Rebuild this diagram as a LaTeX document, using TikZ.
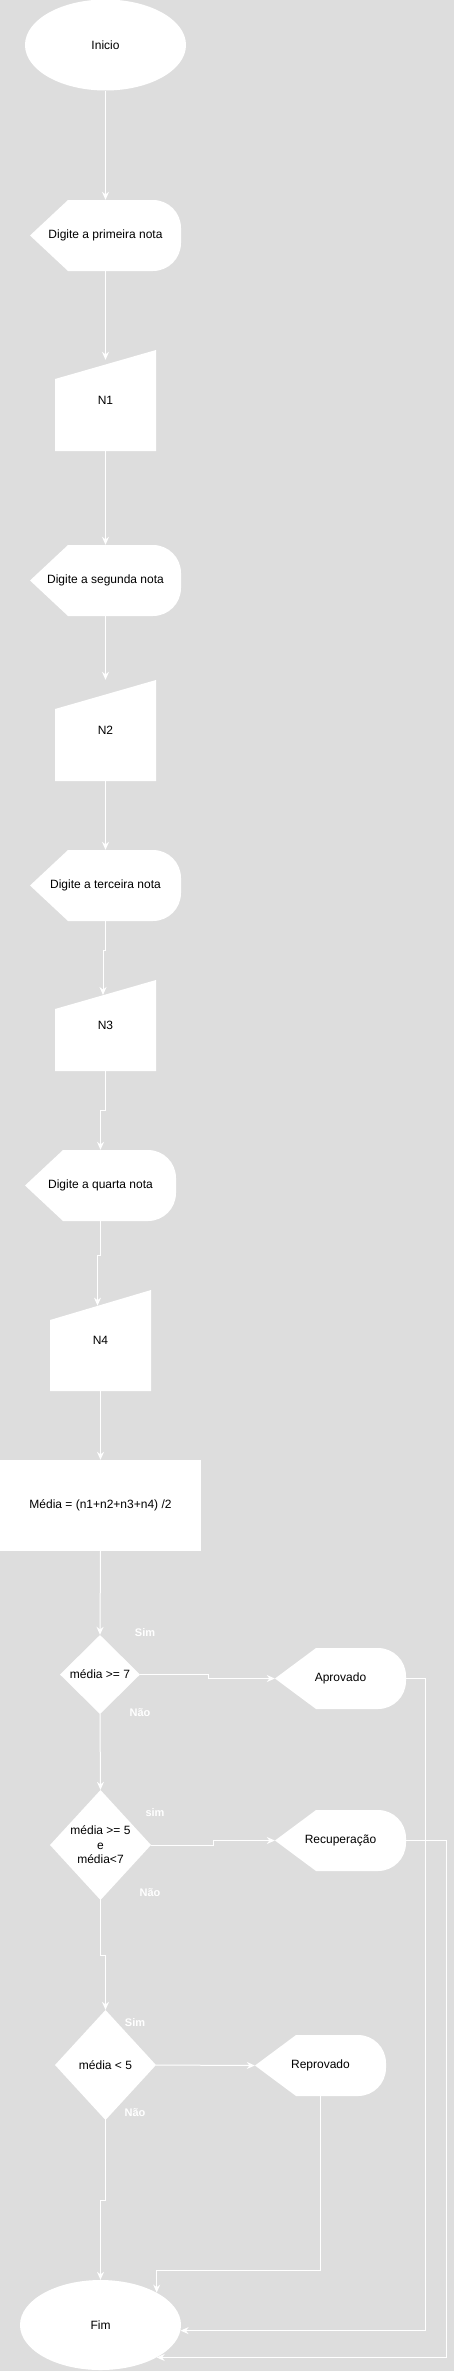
\documentclass[tikz,border=0pt]{standalone}
\usepackage{fontspec}
\setmainfont{Liberation Sans}
\usetikzlibrary{arrows.meta,shapes.geometric,calc}
\definecolor{fundo}{RGB}{221,221,221}

\begin{document}
\begin{tikzpicture}[x=1pt,y=-1pt,>={Stealth[length=8pt,width=7pt]},
	font=\fontsize{12}{14.5}\selectfont,
	flow/.style={->,white,line width=1pt},
	rotulo/.style={white,font=\fontsize{11}{13}\selectfont\bfseries},
	terminal/.style={ellipse,fill=white,inner sep=0pt,minimum width=161pt,minimum height=91pt},
	processo/.style={rectangle,fill=white,inner sep=0pt,minimum width=201pt,minimum height=91pt},
	exibir/.style={rectangle,inner sep=0pt,fill=fundo,minimum width=151pt,minimum height=71pt,
		path picture={\fill[white] (path picture bounding box.west)
			-- ([xshift=#1]path picture bounding box.north west)
			-- ([xshift=-28pt]path picture bounding box.north east) arc[start angle=90,end angle=0,radius=28pt]
			-- ([yshift=28pt]path picture bounding box.south east) arc[start angle=0,end angle=-90,radius=28pt]
			-- ([xshift=#1]path picture bounding box.south west) -- cycle;}},
	exibir/.default=38pt,
	entrada/.style={rectangle,inner sep=0pt,fill=fundo,minimum width=101pt,minimum height=101pt,
		path picture={\fill[white] ([yshift=-#1]path picture bounding box.north west)
			-- (path picture bounding box.north east) -- (path picture bounding box.south east)
			-- (path picture bounding box.south west) -- cycle;}},
	entrada/.default=29pt,
	decisao/.style={rectangle,inner sep=0pt,fill=fundo,align=center,
		path picture={\fill[white] (path picture bounding box.north) -- (path picture bounding box.east)
			-- (path picture bounding box.south) -- (path picture bounding box.west) -- cycle;}},
	saida/.style={exibir=41pt,minimum width=131pt,minimum height=61pt}]
%	\draw [help lines] (0,0) grid (453,2371);
	\useasboundingbox (0,0) rectangle (453,2371);
	\fill[fundo] (-2,-2) rectangle (455,2373);

	\node[terminal] (ini) at (105.5,45) {Inicio};
	\node[exibir] (d1) at (105.5,235.5) {Digite a primeira nota};
	\node[entrada] (n1) at (105.5,400.5) {N1};
	\node[exibir] (d2) at (105.5,580.5) {Digite a segunda nota};
	\node[entrada] (n2) at (105.5,730.5) {N2};
	\node[exibir] (d3) at (105.5,885.5) {Digite a terceira nota};
	\node[entrada,minimum height=91pt] (n3) at (105.5,1025.5) {N3};
	\node[exibir] (d4) at (100.5,1185.5) {Digite a quarta nota};
	\node[entrada=30pt] (n4) at (100.5,1340.5) {N4};
	\node[processo] (med) at (100.5,1505.5) {Média = (n1+n2+n3+n4) /2};

	\node[decisao,minimum width=80pt,minimum height=79pt] (dec1) at (100,1674.5) {média >= 7};
	\node[saida] (apr) at (340.5,1678.5) {Aprovado};
	\node[decisao,minimum width=101pt,minimum height=110pt] (dec2) at (100.5,1845) {média >= 5\\e\\média<7};
	\node[saida] (rec) at (340.5,1840.5) {Recuperação};
	\node[decisao,minimum width=101pt,minimum height=110pt] (dec3) at (105.5,2065) {média < 5};
	\node[saida] (rep) at (320.5,2065.5) {Reprovado};
	\node[terminal,minimum height=90pt] (fim) at (100.5,2325) {Fim};

	\node[rotulo] (sim1) at (145,1633) {Sim};
	\node[rotulo] (nao1) at (140,1713) {Não};
	\node[rotulo] (sim2) at (155,1813) {sim};
	\node[rotulo] (nao2) at (150,1893) {Não};
	\node[rotulo] (sim3) at (135,2023) {Sim};
	\node[rotulo] (nao3) at (135,2113) {Não};

	\draw[flow] (ini.south) -- (d1.north);
	\draw[flow] (d1.south) -- ($(n1.north)+(0,10)$);
	\draw[flow] (n1.south) -- (d2.north);
	\draw[flow] (d2.south) -- (n2.north);
	\draw[flow] (n2.south) -- (d3.north);
	\draw[flow] (d3.south) -- ++(0,29) -- ++(-2.5,0) -- ($(n3.north)+(-2.5,15.2)$);
	\draw[flow] (n3.south) -- ++(0,39) -| (d4.north);
	\draw[flow] (d4.south) -- ++(0,34) -- ++(-3,0) -- ($(n4.north)+(-3,15.8)$);
	\draw[flow] (n4.south) -- (med.north);
	\draw[flow] (med.south) -- (dec1.north);
	\draw[flow] (dec1.east) -- ++(68,0) |- (apr.west);
	\draw[flow] (dec1.south) -- (dec2.north);
	\draw[flow] (dec2.east) -- ++(62,0) |- (rec.west);
	\draw[flow] (dec2.south) -- ++(0,55) -| (dec3.north);
	\draw[flow] (dec3.east) -- (rep.west);
	\draw[flow] (dec3.south) -- ++(0,80) -| (fim.north);
	\draw[flow] (rep.south) -- ++(0,174) -| (fim.30);
	\draw[flow] (apr.east) -- ++(19,0) |- (fim.-4);
	\draw[flow] (rec.east) -- ++(40,0) |- (fim.-30);
\end{tikzpicture}
\end{document}
